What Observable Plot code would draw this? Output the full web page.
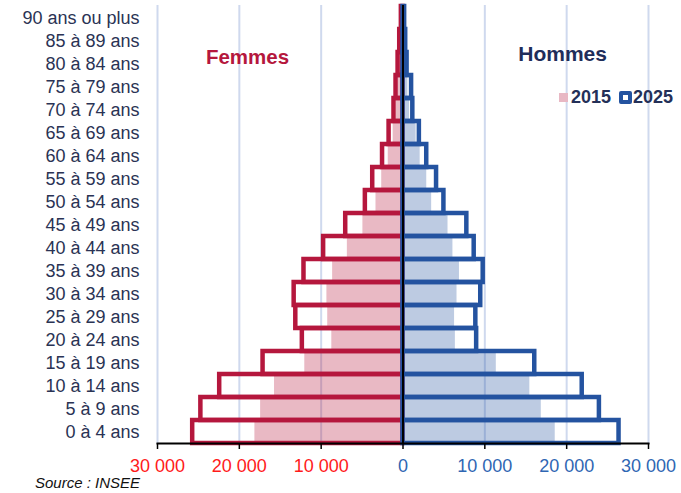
<!DOCTYPE html>
<html>
<head>
<meta charset="utf-8">
<script src="https://cdn.jsdelivr.net/npm/d3@7"></script>
<script src="https://cdn.jsdelivr.net/npm/@observablehq/plot@0.6"></script>
<style>
  body { margin: 0; background: #fff; }
  #wrap { position: relative; width: 681px; height: 493px; font-family: "Liberation Sans", Arial, sans-serif; }
  #legend { position: absolute; left: 559px; top: 87px; font-weight: bold; font-size: 18px; color: #243058; display: flex; align-items: center; white-space: nowrap; }
  .sw15 { display: inline-block; width: 9px; height: 9px; background: #e8b8c4; margin-right: 3px; }
  .sw25 { display: inline-block; width: 5px; height: 5px; border: 4px solid #2453a0; border-radius: 2px; background: #fff; margin-left: 8px; margin-right: 1px; }
  #source { position: absolute; left: 35px; top: 474px; font-style: italic; font-size: 15px; color: #111; }
</style>
</head>
<body>
<div id="wrap">
  <div id="chart"></div>
  <div id="legend"><span class="sw15"></span>2015<span class="sw25"></span>2025</div>
  <div id="source">Source : INSEE</div>
</div>
<script>
const ages = ["0 à 4 ans", "5 à 9 ans", "10 à 14 ans", "15 à 19 ans", "20 à 24 ans", "25 à 29 ans",
  "30 à 34 ans", "35 à 39 ans", "40 à 44 ans", "45 à 49 ans", "50 à 54 ans", "55 à 59 ans",
  "60 à 64 ans", "65 à 69 ans", "70 à 74 ans", "75 à 79 ans", "80 à 84 ans", "85 à 89 ans", "90 ans ou plus"];
const femmes2015 = [18100, 17400, 15700, 12000, 8700, 9200, 9300, 8600, 6800, 4900, 3300, 2600, 1800, 1200, 800, 600, 400, 300, 150];
const femmes2025 = [25700, 24700, 22400, 17100, 12300, 13100, 13300, 12100, 9700, 7000, 4600, 3700, 2500, 1700, 1100, 850, 600, 400, 200];
const hommes2015 = [18600, 16900, 15500, 11400, 6400, 6300, 6600, 6900, 6100, 5500, 3500, 2900, 2100, 1600, 800, 600, 400, 250, 100];
const hommes2025 = [26400, 24000, 21900, 16100, 9000, 8900, 9500, 9800, 8700, 7800, 5000, 4100, 2900, 2000, 1200, 1050, 500, 330, 200];
const xTicksNeg = [-30000, -20000, -10000];
const xTicksPos = [0, 10000, 20000, 30000];
const sexLabels = [{label: "Femmes", x: -19000}, {label: "Hommes", x: 19500}];

const red = "#b5173d", blue = "#2453a0";
const rows = ages.map((a, i) => ({age: a, f15: -femmes2015[i], f25: -femmes2025[i], h15: hommes2015[i], h25: hommes2025[i]}));
const fmt = d => d3.format(",")(Math.abs(d)).replace(/,/g, " ");

const chart = Plot.plot({
  width: 681,
  height: 493,
  marginLeft: 157,
  marginRight: 33,
  marginTop: 5,
  marginBottom: 50,
  style: {fontFamily: "Liberation Sans, Arial, sans-serif", fontSize: "18px", background: "#fff"},
  x: {domain: [-30000, 30000], label: null},
  y: {domain: ages.slice().reverse(), padding: 0, label: null},
  marks: [
    Plot.gridX({ticks: xTicksNeg.concat(xTicksPos), stroke: "#cfd9ee", strokeOpacity: 1, strokeWidth: 2}),
    Plot.barX(rows, {y: "age", x1: 0, x2: "f15", fill: red, fillOpacity: 0.3}),
    Plot.barX(rows, {y: "age", x1: 0, x2: "h15", fill: blue, fillOpacity: 0.3}),
    Plot.barX(rows, {y: "age", x1: 0, x2: "f25", fill: "none", stroke: red, strokeWidth: 4.5}),
    Plot.barX(rows, {y: "age", x1: 0, x2: "h25", fill: "none", stroke: blue, strokeWidth: 4.5}),
    Plot.ruleX([0], {stroke: "black", strokeWidth: 2}),
    Plot.frame({anchor: "bottom", stroke: "black", strokeWidth: 2}),
    Plot.axisY({tickSize: 0, tickPadding: 18, fontSize: 18, fill: "#2a3354"}),
    Plot.axisX({ticks: xTicksNeg, tickFormat: fmt, tickSize: 6, tickPadding: 10, stroke: "black", strokeWidth: 1.5, fill: "#ff1a1a", fontSize: 18, label: null}),
    Plot.axisX({ticks: xTicksPos, tickFormat: fmt, tickSize: 6, tickPadding: 10, stroke: "black", strokeWidth: 1.5, fill: "#2f66b3", fontSize: 18, label: null}),
    Plot.text([sexLabels[0]], {x: "x", y: () => "80 à 84 ans", text: "label", dy: -7, fill: red, fontSize: 20.5, fontWeight: "bold"}),
    Plot.text([sexLabels[1]], {x: "x", y: () => "80 à 84 ans", text: "label", dy: -10, fill: "#1f2d5a", fontSize: 21, fontWeight: "bold"})
  ]
});
document.getElementById("chart").appendChild(chart);
</script>
</body>
</html>
